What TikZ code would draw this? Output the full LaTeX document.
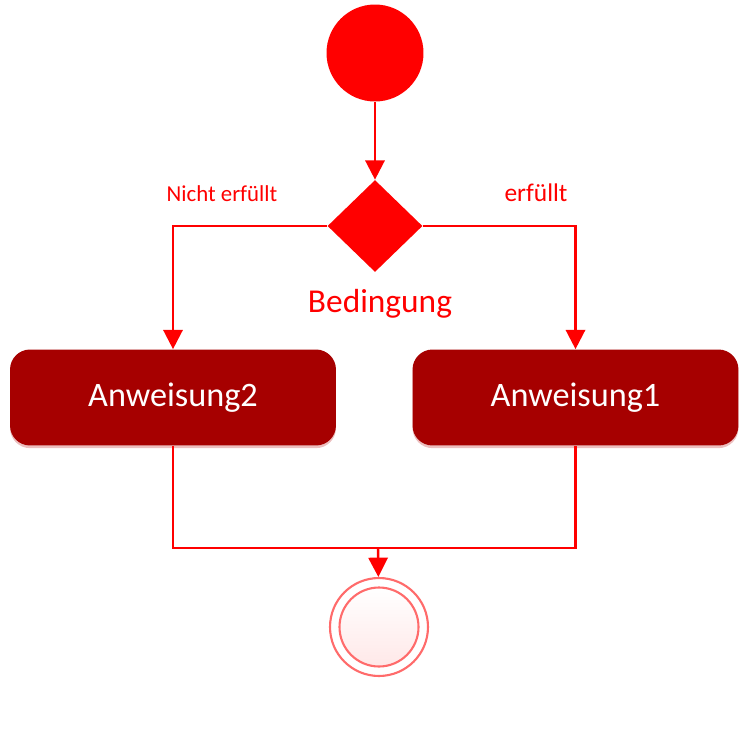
\documentclass[tikz,border=0pt]{standalone}
\usepackage{fontspec}
\setmainfont{Carlito}
\usetikzlibrary{arrows.meta,shapes.geometric,shadows}
\definecolor{flowred}{HTML}{FF0000}
\definecolor{boxred}{HTML}{A60000}
\definecolor{endred}{HTML}{FF6B6B}
\tikzset{
    line/.style={draw=flowred,line width=1.4pt},
    flow/.style={line,-{Triangle[length=11pt,width=11pt]}},
    action/.style={rectangle,rounded corners=0.4cm,fill=boxred,text=white,
        minimum width=6.52cm,minimum height=1.92cm,
        font=\fontsize{19.5}{22}\selectfont,
        drop shadow={fill=red!70!black,opacity=0.25,shadow xshift=0pt,shadow yshift=-1.5pt}},
    guard/.style={text=flowred,font=\fontsize{13}{15}\selectfont,anchor=base}
}
\begin{document}
\begin{tikzpicture}[x=0.02cm,y=-0.02cm]
    \useasboundingbox (0,0) rectangle (751,744);
    \node[circle,fill=flowred,minimum size=1.94cm,inner sep=0] (start) at (375, 53) {};
    \node[diamond,fill=flowred,minimum width=1.9cm,minimum height=1.84cm,inner sep=0] (cond) at (375, 226) {};
    \node[text=flowred,font=\fontsize{19}{22}\selectfont,anchor=base] (condlabel) at (380, 312) {Bedingung};
    \node[guard] (notmet) at (222, 201) {Nicht erfüllt};
    \node[guard,font=\fontsize{14.5}{16}\selectfont] (met) at (536, 201) {erfüllt};
    \node[action] (a2) at (173, 397.5) {Anweisung2};
    \node[action] (a1) at (575.5, 397.5) {Anweisung1};
    \coordinate (merge) at (378, 548);
    \node[circle,draw=endred,line width=1.2pt,minimum size=1.96cm,inner sep=0] (final) at (379, 627) {};
    \node[circle,draw=endred,line width=1.2pt,top color=white,bottom color=red!9,
        minimum size=1.58cm,inner sep=0] (finalin) at (final) {};
    \draw[flow] (start) -- (cond);
    \draw[flow] (cond.west) -| (a2.north);
    \draw[flow] (cond.east) -| (a1.north);
    \draw[line] (a2.south) |- (merge) -| (a1.south);
    \draw[flow] (merge) -- (final);
\end{tikzpicture}
\end{document}
